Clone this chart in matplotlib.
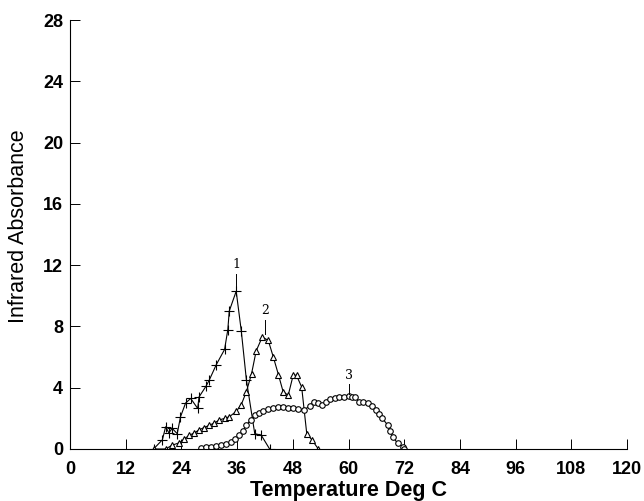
import matplotlib
matplotlib.use("Agg")
import matplotlib.pyplot as plt

# curve 1 (plus markers)
t1 = [18, 19.9, 20.6, 21.3, 22, 23.1, 23.8, 24.9, 26, 27.5, 27.8, 29.3, 30,
      31.5, 33.3, 34, 34.3, 35.8, 36.9, 38, 39.8, 41.2, 43]
a1 = [0, 0.6, 1.45, 1.05, 1.35, 1.0, 2.1, 3.0, 3.3, 2.65, 3.4, 4.1, 4.5,
      5.5, 6.5, 7.8, 9.0, 10.3, 7.7, 4.5, 1.0, 0.9, 0]

# curve 2 (triangles)
t2 = [18, 20.6, 22, 23.5, 24.6, 25.7, 26.8, 27.8, 28.9, 30, 31.1, 32.2, 33.3,
      34.3, 35.8, 36.9, 38, 39.1, 40.1, 41.4, 42.7, 43.8, 44.9, 45.9, 47,
      48.1, 48.8, 49.9, 51, 52.1, 53.5]
a2 = [0, 0, 0.25, 0.4, 0.65, 0.9, 1.05, 1.25, 1.4, 1.55, 1.7, 1.9, 2.0,
      2.1, 2.45, 2.9, 3.75, 4.9, 6.4, 7.3, 7.1, 6.0, 4.85, 3.75, 3.5,
      4.85, 4.8, 4.05, 1.0, 0.6, 0]

# curve 3 (circles)
t3 = [28.2, 29.3, 30.4, 31.5, 32.5, 33.6, 34.7, 35.6, 36.5, 37.3, 38, 38.9,
      39.8, 40.7, 41.6, 42.7, 43.8, 44.9, 45.9, 47, 48.1, 49.2, 50.3, 51.7,
      52.5, 53.5, 54.3, 55.2, 56.1, 57, 57.9, 59, 60.1, 60.8, 61.5, 62.2,
      63.1, 64.1, 65, 65.9, 66.6, 67.3, 68.4, 69, 69.5, 70.6, 71.7, 72]
a3 = [0.05, 0.1, 0.15, 0.2, 0.25, 0.35, 0.48, 0.65, 0.9, 1.2, 1.55, 1.9,
      2.2, 2.35, 2.48, 2.6, 2.7, 2.75, 2.76, 2.7, 2.65, 2.6, 2.55, 2.8,
      3.1, 3.0, 2.9, 3.05, 3.24, 3.3, 3.38, 3.42, 3.46, 3.42, 3.38, 3.1,
      3.05, 3.0, 2.8, 2.55, 2.3, 2.0, 1.57, 1.2, 0.8, 0.37, 0.15, 0]

xticks = [0, 12, 24, 36, 48, 60, 72, 84, 96, 108, 120]
yticks = [0, 4, 8, 12, 16, 20, 24, 28]

plt.rcParams['font.family'] = ['Liberation Sans', 'DejaVu Sans']

fig = plt.figure(figsize=(6.44, 5.01), dpi=100)
ax = fig.add_axes([0.1087, 0.1038, 0.865, 0.856])

ax.plot(t1, a1, color='black', lw=0.8, marker='+', ms=7, mew=0.8)
ax.plot(t2, a2, color='black', lw=0.8, marker='^', ms=4.5, mfc='white', mew=0.8)
ax.plot(t3, a3, color='black', lw=0.8, marker='o', ms=4, mfc='white', mew=0.8)

# curve labels with short leader dashes
for txt, x, ypk, ytxt in [('1', 35.8, 10.3, 11.6), ('2', 42.0, 7.4, 8.6), ('3', 60.0, 3.5, 4.4)]:
    ax.plot([x, x], [ypk + 0.1, ytxt - 0.15], color='black', lw=0.7)
    ax.text(x, ytxt, txt, ha='center', va='bottom', fontsize=9,
            family='DejaVu Serif')

ax.set_xlim(0, 120)
ax.set_ylim(0, 28)
ax.set_xticks(xticks)
ax.set_yticks(yticks)
ax.tick_params(direction='in', length=7, width=0.7, labelsize=13)
ax.tick_params(axis='x', pad=9)
ax.tick_params(axis='y', pad=5)
for lab in ax.get_xticklabels() + ax.get_yticklabels():
    lab.set_fontweight('bold')

for s in ['top', 'right']:
    ax.spines[s].set_visible(False)
for s in ['left', 'bottom']:
    ax.spines[s].set_linewidth(0.8)

ax.set_xlabel('Temperature Deg C', fontsize=15.5, fontweight='bold', labelpad=1)
ax.set_ylabel('Infrared Absorbance', fontsize=15.5)
ax.yaxis.set_label_coords(-0.074, 0.52)

fig.savefig('out.png', dpi=100)
